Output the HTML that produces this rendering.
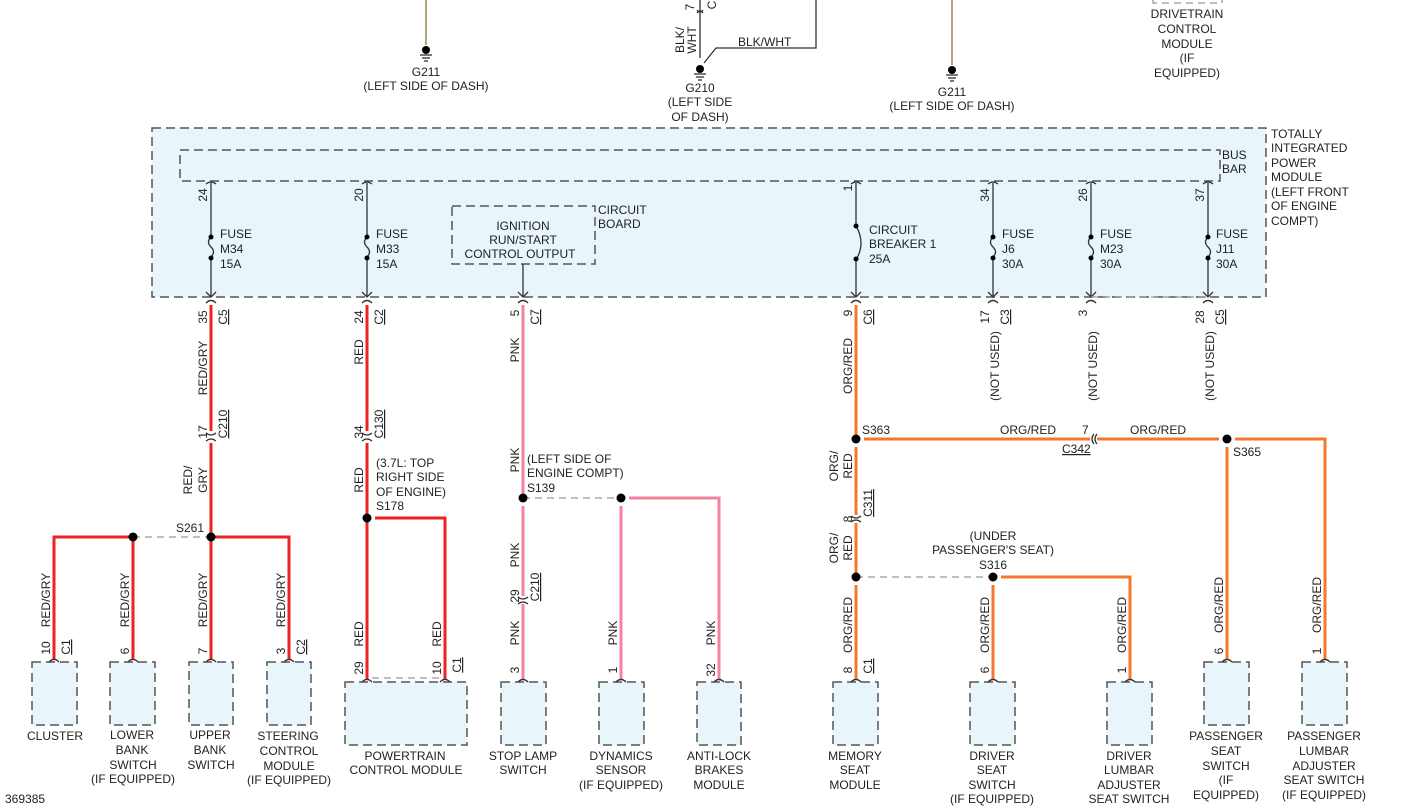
<!DOCTYPE html>
<html><head><meta charset="utf-8"><style>
body{margin:0;background:#fff}
svg{display:block;font-family:"Liberation Sans",sans-serif;font-size:12px;fill:#222}
.b{fill:#e8f5fb;stroke:#555;stroke-width:1.5;stroke-dasharray:9 5}
.k{stroke:#333;stroke-width:1.3;fill:none}
.r{stroke:#ee2222;stroke-width:3;fill:none}
.p{stroke:#f4849e;stroke-width:3;fill:none}
.o{stroke:#f7772a;stroke-width:3;fill:none}
.d{stroke:#999;stroke-width:1.3;stroke-dasharray:7 5;fill:none}
.m{text-anchor:middle}
.u{text-decoration:underline}
</style></head><body>
<svg width="1414" height="808" viewBox="0 0 1414 808">
<!-- top grounds -->
<line x1="426" y1="0" x2="426" y2="45" stroke="#9a8a4a" stroke-width="1.5"/>
<g class="k"><line x1="420" y1="55" x2="432" y2="55"/><line x1="422" y1="58" x2="430" y2="58"/><line x1="424" y1="61" x2="428" y2="61"/></g>
<circle cx="426" cy="50" r="4" fill="#000"/>
<text class="m" x="426" y="76">G211</text><text class="m" x="426" y="90">(LEFT SIDE OF DASH)</text>

<line x1="700" y1="0" x2="700" y2="58" class="k"/>
<path d="M697 10 q3 4 6 0 M697 13 q3 -4 6 0" class="k" stroke-width="1"/>
<text transform="translate(694,7) rotate(-90)" class="m">7</text>
<text transform="translate(716,5) rotate(-90)" class="m">C</text>
<text transform="translate(684,40) rotate(-90)" class="m">BLK/</text>
<text transform="translate(696,40) rotate(-90)" class="m">WHT</text>
<path d="M704 63 L716 48 L816 48 L816 0" class="k"/>
<text x="738" y="46">BLK/WHT</text>
<circle cx="700" cy="69" r="4" fill="#000"/>
<g class="k"><line x1="694" y1="74" x2="706" y2="74"/><line x1="696" y1="77" x2="704" y2="77"/><line x1="698" y1="80" x2="702" y2="80"/></g>
<text class="m" x="700" y="92">G210</text><text class="m" x="700" y="106">(LEFT SIDE</text><text class="m" x="700" y="121">OF DASH)</text>

<line x1="952" y1="0" x2="952" y2="65" stroke="#9a8a4a" stroke-width="1.5"/>
<circle cx="952" cy="70" r="4" fill="#000"/>
<g class="k"><line x1="946" y1="75" x2="958" y2="75"/><line x1="948" y1="78" x2="956" y2="78"/><line x1="950" y1="81" x2="954" y2="81"/></g>
<text class="m" x="952" y="96">G211</text><text class="m" x="952" y="110">(LEFT SIDE OF DASH)</text>

<path d="M1153 0 L1153 3 L1222 3 L1222 0" class="d" stroke="#555"/>
<text class="m" x="1187" y="18">DRIVETRAIN</text><text class="m" x="1187" y="33">CONTROL</text><text class="m" x="1187" y="48">MODULE</text><text class="m" x="1187" y="62">(IF</text><text class="m" x="1187" y="77">EQUIPPED)</text>

<!-- TIPM -->
<rect x="152" y="128" width="1114" height="169" class="b"/>
<rect x="180" y="150" width="1040" height="31" class="b" fill="#e3f3fa"/>
<text x="1222" y="159">BUS</text><text x="1222" y="173">BAR</text>
<g><text x="1271" y="138">TOTALLY</text><text x="1271" y="152">INTEGRATED</text><text x="1271" y="167">POWER</text><text x="1271" y="181">MODULE</text><text x="1271" y="196">(LEFT FRONT</text><text x="1271" y="210">OF ENGINE</text><text x="1271" y="225">COMPT)</text></g>
<rect x="452" y="206" width="143" height="58" class="b"/>
<text class="m" x="523" y="230">IGNITION</text><text class="m" x="523" y="244">RUN/START</text><text class="m" x="520" y="258">CONTROL OUTPUT</text>
<text x="598" y="214">CIRCUIT</text><text x="598" y="228">BOARD</text>

<!-- internal verticals -->
<g class="k">
<path d="M211 183 V296 M367 183 V296 M856 183 V296 M993 183 V296 M1091 183 V296 M1208 183 V296 M523 264 V296"/>
<path d="M206 184 q5 -4 10 0 M362 184 q5 -4 10 0 M851 184 q5 -4 10 0 M988 184 q5 -4 10 0 M1086 184 q5 -4 10 0 M1203 184 q5 -4 10 0"/>
<path d="M206 292 l5 5 l5 -5 M362 292 l5 5 l5 -5 M518 292 l5 5 l5 -5 M851 292 l5 5 l5 -5 M988 292 l5 5 l5 -5 M1086 292 l5 5 l5 -5 M1203 292 l5 5 l5 -5"/>
<path d="M206 303 q5 -5 10 0 M362 303 q5 -5 10 0 M518 303 q5 -5 10 0 M851 303 q5 -5 10 0 M988 303 q5 -5 10 0 M1086 303 q5 -5 10 0 M1203 303 q5 -5 10 0"/>
</g>
<g fill="#e8f5fb"><rect x="207" y="238" width="8" height="20"/><rect x="363" y="238" width="8" height="20"/><rect x="989" y="238" width="8" height="20"/><rect x="1087" y="238" width="8" height="20"/><rect x="1204" y="238" width="8" height="20"/><rect x="852" y="226" width="8" height="34"/></g>
<g class="k"><path d="M211 237 q-5 5 0 10 q5 5 0 10 M367 237 q-5 5 0 10 q5 5 0 10 M993 237 q-5 5 0 10 q5 5 0 10 M1091 237 q-5 5 0 10 q5 5 0 10 M1208 237 q-5 5 0 10 q5 5 0 10 M856 226 q10 17 0 34"/></g>
<g fill="#000"><circle cx="211" cy="237" r="2.5"/><circle cx="211" cy="258" r="2.5"/><circle cx="367" cy="237" r="2.5"/><circle cx="367" cy="258" r="2.5"/><circle cx="993" cy="237" r="2.5"/><circle cx="993" cy="258" r="2.5"/><circle cx="1091" cy="237" r="2.5"/><circle cx="1091" cy="258" r="2.5"/><circle cx="1208" cy="237" r="2.5"/><circle cx="1208" cy="258" r="2.5"/><circle cx="856" cy="226" r="2.5"/><circle cx="856" cy="259" r="2.5"/></g>
<text x="220" y="238">FUSE</text><text x="220" y="253">M34</text><text x="220" y="268">15A</text>
<text x="376" y="238">FUSE</text><text x="376" y="253">M33</text><text x="376" y="268">15A</text>
<text x="869" y="234">CIRCUIT</text><text x="869" y="248">BREAKER 1</text><text x="869" y="263">25A</text>
<text x="1002" y="238">FUSE</text><text x="1002" y="253">J6</text><text x="1002" y="268">30A</text>
<text x="1100" y="238">FUSE</text><text x="1100" y="253">M23</text><text x="1100" y="268">30A</text>
<text x="1216" y="238">FUSE</text><text x="1216" y="253">J11</text><text x="1216" y="268">30A</text>
<g class="m">
<text transform="translate(207,195) rotate(-90)">24</text><text transform="translate(363,195) rotate(-90)">20</text><text transform="translate(852,188) rotate(-90)">1</text><text transform="translate(989,195) rotate(-90)">34</text><text transform="translate(1087,195) rotate(-90)">26</text><text transform="translate(1204,195) rotate(-90)">37</text>
</g>
<line x1="1091" y1="297" x2="1208" y2="297" class="d"/>

<!-- pin labels below TIPM -->
<g class="m">
<text transform="translate(207,317) rotate(-90)">35</text><text transform="translate(227,317) rotate(-90)" class="u">C5</text>
<text transform="translate(363,317) rotate(-90)">24</text><text transform="translate(383,317) rotate(-90)" class="u">C2</text>
<text transform="translate(519,313) rotate(-90)">5</text><text transform="translate(539,317) rotate(-90)" class="u">C7</text>
<text transform="translate(852,313) rotate(-90)">9</text><text transform="translate(872,317) rotate(-90)" class="u">C6</text>
<text transform="translate(989,317) rotate(-90)">17</text><text transform="translate(1009,317) rotate(-90)" class="u">C3</text>
<text transform="translate(1087,313) rotate(-90)">3</text>
<text transform="translate(1204,317) rotate(-90)">28</text><text transform="translate(1224,317) rotate(-90)" class="u">C5</text>
<text transform="translate(999,366) rotate(-90)">(NOT USED)</text><text transform="translate(1097,366) rotate(-90)">(NOT USED)</text><text transform="translate(1214,366) rotate(-90)">(NOT USED)</text>
</g>

<!-- red 211 -->
<path class="r" d="M211 305 V431 M211 443 V537 M211 537 H289 V660 M211 537 V660 M133 537 H54 V660 M133 537 V660"/>
<line x1="133" y1="537" x2="211" y2="537" class="d"/>
<rect x="120" y="531" width="140" height="12" fill="none"/>
<path class="k" d="M206 433 q5 4 10 0 M206 441 q5 -4 10 0"/>
<circle cx="211" cy="537" r="4.5" fill="#000"/><circle cx="133" cy="537" r="4.5" fill="#000"/>
<g class="m">
<text transform="translate(207,368) rotate(-90)">RED/GRY</text>
<text transform="translate(207,432) rotate(-90)">17</text><text transform="translate(227,424) rotate(-90)" class="u">C210</text>
<text transform="translate(192,480) rotate(-90)">RED/</text><text transform="translate(207,480) rotate(-90)">GRY</text>
<text transform="translate(50,600) rotate(-90)">RED/GRY</text><text transform="translate(129,600) rotate(-90)">RED/GRY</text><text transform="translate(207,600) rotate(-90)">RED/GRY</text><text transform="translate(285,600) rotate(-90)">RED/GRY</text>
<text transform="translate(50,648) rotate(-90)">10</text><text transform="translate(70,647) rotate(-90)" class="u">C1</text>
<text transform="translate(129,651) rotate(-90)">6</text><text transform="translate(207,651) rotate(-90)">7</text>
<text transform="translate(285,651) rotate(-90)">3</text><text transform="translate(305,647) rotate(-90)" class="u">C2</text>
</g>
<text x="176" y="532">S261</text>

<!-- red 367 -->
<path class="r" d="M367 305 V431 M367 443 V680 M375 518 H445 V680"/>
<path class="k" d="M362 433 q5 4 10 0 M362 441 q5 -4 10 0"/>
<circle cx="367" cy="518" r="4.5" fill="#000"/>
<g class="m">
<text transform="translate(363,352) rotate(-90)">RED</text>
<text transform="translate(363,432) rotate(-90)">34</text><text transform="translate(383,424) rotate(-90)" class="u">C130</text>
<text transform="translate(363,480) rotate(-90)">RED</text>
<text transform="translate(363,634) rotate(-90)">RED</text><text transform="translate(441,634) rotate(-90)">RED</text>
<text transform="translate(363,668) rotate(-90)">29</text><text transform="translate(441,668) rotate(-90)">10</text><text transform="translate(461,665) rotate(-90)" class="u">C1</text>
</g>
<text x="376" y="467">(3.7L: TOP</text><text x="376" y="481">RIGHT SIDE</text><text x="376" y="496">OF ENGINE)</text><text x="376" y="510">S178</text>

<!-- pink -->
<path class="p" d="M523 305 V498 M523 506 V596 M523 604 V680 M629 498 H719 V680 M621 506 V680"/>
<line x1="523" y1="498" x2="621" y2="498" class="d"/>
<path class="k" d="M518 597 q5 4 10 0 M518 604 q5 -4 10 0"/>
<circle cx="523" cy="498" r="4.5" fill="#000"/><circle cx="621" cy="498" r="4.5" fill="#000"/>
<g class="m">
<text transform="translate(519,350) rotate(-90)">PNK</text><text transform="translate(519,460) rotate(-90)">PNK</text><text transform="translate(519,555) rotate(-90)">PNK</text>
<text transform="translate(519,596) rotate(-90)">29</text><text transform="translate(539,587) rotate(-90)" class="u">C210</text>
<text transform="translate(519,633) rotate(-90)">PNK</text><text transform="translate(617,633) rotate(-90)">PNK</text><text transform="translate(715,633) rotate(-90)">PNK</text>
<text transform="translate(519,670) rotate(-90)">3</text><text transform="translate(617,670) rotate(-90)">1</text><text transform="translate(715,670) rotate(-90)">32</text>
</g>
<text x="527" y="463">(LEFT SIDE OF</text><text x="527" y="477">ENGINE COMPT)</text><text x="527" y="492">S139</text>

<!-- orange -->
<path class="o" d="M856 305 V439 M864 439 H1090 M1097 439 H1219 M1235 439 H1325 V660 M1227 447 V660 M856 447 V515 M856 523 V577 M856 585 V680 M1001 577 H1130 V680 M993 585 V680"/>
<line x1="856" y1="577" x2="993" y2="577" class="d"/>
<path class="k" d="M1094 434 q-4 5 0 10 M1097 434 q-4 5 0 10"/>
<path class="k" d="M851 516 q5 4 10 0 M851 522 q5 -4 10 0"/>
<circle cx="856" cy="439" r="4.5" fill="#000"/><circle cx="1227" cy="439" r="4.5" fill="#000"/><circle cx="856" cy="577" r="4.5" fill="#000"/><circle cx="993" cy="577" r="4.5" fill="#000"/>
<text x="862" y="434">S363</text><text x="1000" y="434">ORG/RED</text><text x="1130" y="434">ORG/RED</text><text x="1082" y="434">7</text>
<text x="1062" y="453" class="u">C342</text><text x="1233" y="456">S365</text>
<text class="m" x="993" y="540">(UNDER</text><text class="m" x="993" y="554">PASSENGER'S SEAT)</text><text class="m" x="993" y="569">S316</text>
<g class="m">
<text transform="translate(852,366) rotate(-90)">ORG/RED</text>
<text transform="translate(838,466) rotate(-90)">ORG/</text><text transform="translate(852,466) rotate(-90)">RED</text>
<text transform="translate(852,519) rotate(-90)">8</text><text transform="translate(872,503) rotate(-90)" class="u">C311</text>
<text transform="translate(838,548) rotate(-90)">ORG/</text><text transform="translate(852,548) rotate(-90)">RED</text>
<text transform="translate(852,625) rotate(-90)">ORG/RED</text><text transform="translate(989,625) rotate(-90)">ORG/RED</text><text transform="translate(1126,625) rotate(-90)">ORG/RED</text>
<text transform="translate(1223,605) rotate(-90)">ORG/RED</text><text transform="translate(1321,605) rotate(-90)">ORG/RED</text>
<text transform="translate(852,670) rotate(-90)">8</text><text transform="translate(872,666) rotate(-90)" class="u">C1</text>
<text transform="translate(989,670) rotate(-90)">6</text><text transform="translate(1126,670) rotate(-90)">1</text>
<text transform="translate(1223,651) rotate(-90)">6</text><text transform="translate(1321,651) rotate(-90)">1</text>
</g>

<!-- component boxes -->
<g class="b">
<rect x="32" y="662" width="45" height="63"/><rect x="110" y="662" width="45" height="63"/><rect x="189" y="662" width="44" height="63"/><rect x="267" y="662" width="44" height="63"/>
<rect x="345" y="682" width="122" height="63"/>
<rect x="501" y="682" width="45" height="63"/><rect x="599" y="682" width="45" height="63"/><rect x="697" y="682" width="44" height="63"/>
<rect x="833" y="682" width="45" height="63"/><rect x="970" y="682" width="45" height="63"/><rect x="1107" y="682" width="45" height="63"/>
<rect x="1204" y="662" width="45" height="63"/><rect x="1302" y="662" width="45" height="63"/>
</g>
<path class="k" d="M49 662 q5 -5 10 0 M128 662 q5 -5 10 0 M206 662 q5 -5 10 0 M284 662 q5 -5 10 0 M362 682 q5 -5 10 0 M440 682 q5 -5 10 0 M518 682 q5 -5 10 0 M616 682 q5 -5 10 0 M714 682 q5 -5 10 0 M851 682 q5 -5 10 0 M988 682 q5 -5 10 0 M1125 682 q5 -5 10 0 M1222 662 q5 -5 10 0 M1320 662 q5 -5 10 0"/>
<line x1="372" y1="678" x2="440" y2="678" class="d"/>
<g class="m">
<text x="55" y="740">CLUSTER</text>
<text x="132" y="739">LOWER</text><text x="132" y="754">BANK</text><text x="133" y="769">SWITCH</text><text x="133" y="783">(IF EQUIPPED)</text>
<text x="210" y="739">UPPER</text><text x="210" y="754">BANK</text><text x="211" y="769">SWITCH</text>
<text x="288" y="740">STEERING</text><text x="289" y="755">CONTROL</text><text x="289" y="770">MODULE</text><text x="289" y="784">(IF EQUIPPED)</text>
<text x="405" y="760">POWERTRAIN</text><text x="406" y="774">CONTROL MODULE</text>
<text x="523" y="760">STOP LAMP</text><text x="523" y="774">SWITCH</text>
<text x="621" y="760">DYNAMICS</text><text x="621" y="774">SENSOR</text><text x="621" y="789">(IF EQUIPPED)</text>
<text x="719" y="760">ANTI-LOCK</text><text x="719" y="774">BRAKES</text><text x="719" y="789">MODULE</text>
<text x="855" y="760">MEMORY</text><text x="855" y="774">SEAT</text><text x="855" y="789">MODULE</text>
<text x="992" y="760">DRIVER</text><text x="992" y="774">SEAT</text><text x="992" y="789">SWITCH</text><text x="992" y="803">(IF EQUIPPED)</text>
<text x="1129" y="760">DRIVER</text><text x="1129" y="774">LUMBAR</text><text x="1129" y="789">ADJUSTER</text><text x="1129" y="803">SEAT SWITCH</text>
<text x="1226" y="740">PASSENGER</text><text x="1226" y="755">SEAT</text><text x="1226" y="770">SWITCH</text><text x="1226" y="784">(IF</text><text x="1226" y="799">EQUIPPED)</text>
<text x="1324" y="740">PASSENGER</text><text x="1324" y="755">LUMBAR</text><text x="1324" y="770">ADJUSTER</text><text x="1324" y="784">SEAT SWITCH</text><text x="1324" y="799">(IF EQUIPPED)</text>
</g>
<text x="5" y="803">369385</text>
</svg>
</body></html>
